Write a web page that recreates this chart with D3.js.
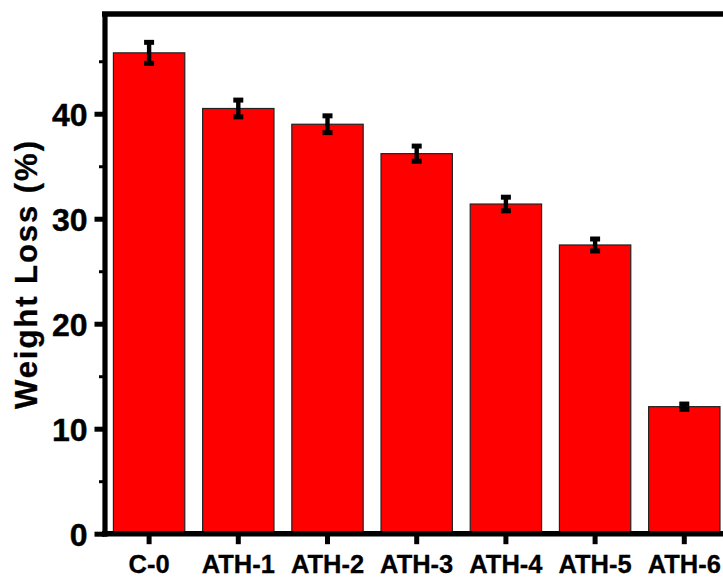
<!DOCTYPE html>
<html>
<head>
<meta charset="utf-8">
<script src="https://cdn.jsdelivr.net/npm/d3@7"></script>
<style>
  html, body { margin: 0; padding: 0; background: #fff; }
  svg { display: block; }
  text { font-family: "Liberation Sans", Arial, sans-serif; font-weight: bold; fill: #000; }
</style>
</head>
<body>
<svg id="chart" width="723" height="580"></svg>
<script>
// Sample names, mean weight loss (%) and standard deviation
const categories = ["C-0", "ATH-1", "ATH-2", "ATH-3", "ATH-4", "ATH-5", "ATH-6"];
const weightLoss = [45.8, 40.5, 39.0, 36.2, 31.4, 27.5, 12.1];
const errors = [1.0, 0.8, 0.8, 0.72, 0.65, 0.57, 0.25];
const majorTicks = [0, 10, 20, 30, 40];
const minorTicks = [5, 15, 25, 35, 45];
const yLabel = "Weight Loss (%)";

const svg = d3.select("#chart");

const plotLeft = 104.5, plotBottom = 533.7, plotTop = 14;
const step = 89.2;

const x = d3.scaleBand()
  .domain(categories)
  .range([plotLeft, plotLeft + step * categories.length])
  .paddingInner(0.2)
  .paddingOuter(0.1);

const y = d3.scaleLinear()
  .domain([0, 49.5])
  .range([plotBottom, plotTop]);

// Bars
svg.append("g")
  .selectAll("rect")
  .data(categories)
  .join("rect")
  .attr("x", d => x(d))
  .attr("width", x.bandwidth())
  .attr("y", (d, i) => y(weightLoss[i]))
  .attr("height", (d, i) => y(0) - y(weightLoss[i]))
  .attr("fill", "#ff0000")
  .attr("stroke", "#222")
  .attr("stroke-width", 1.2);

// Error bars
const eb = svg.append("g").attr("stroke", "#000");
categories.forEach((c, i) => {
  const cx = x(c) + x.bandwidth() / 2;
  const y1 = y(weightLoss[i] + errors[i]);
  const y2 = y(weightLoss[i] - errors[i]);
  eb.append("line").attr("x1", cx).attr("x2", cx).attr("y1", y1).attr("y2", y2)
    .attr("stroke-width", 4.4);
  [y1, y2].forEach(yy => {
    eb.append("line").attr("x1", cx - 5).attr("x2", cx + 5)
      .attr("y1", yy).attr("y2", yy).attr("stroke-width", 5);
  });
});

// Frame: top edge runs past the right side of the view
svg.append("line")
  .attr("x1", plotLeft - 2.5).attr("x2", 760)
  .attr("y1", y(49.5)).attr("y2", y(49.5))
  .attr("stroke", "#000").attr("stroke-width", 5.5);

// Y axis, major ticks
const yAxis = svg.append("g")
  .attr("transform", `translate(${plotLeft},0)`)
  .call(d3.axisLeft(y).tickValues(majorTicks).tickFormat(d3.format("d"))
    .tickSize(10).tickSizeOuter(0).tickPadding(7));
yAxis.select(".domain").attr("stroke-width", 5.2).attr("stroke-linecap", "square");
yAxis.selectAll(".tick line").attr("stroke-width", 5);
yAxis.selectAll(".tick text").attr("font-size", 32).attr("dy", "0.36em")
  .attr("stroke", "#000").attr("stroke-width", 0.4);

// Y axis, minor ticks
const yMinor = svg.append("g")
  .attr("transform", `translate(${plotLeft},0)`)
  .call(d3.axisLeft(y).tickValues(minorTicks).tickFormat("").tickSize(5.5).tickSizeOuter(0));
yMinor.select(".domain").remove();
yMinor.selectAll(".tick line").attr("stroke-width", 3);

// X axis
const xAxis = svg.append("g")
  .attr("transform", `translate(0,${plotBottom})`)
  .call(d3.axisBottom(x).tickSize(10.5).tickSizeOuter(0));
xAxis.select(".domain").attr("stroke-width", 5.5).attr("d", `M${plotLeft - 2.5},0H760`);
xAxis.selectAll(".tick line").attr("stroke-width", 5);
xAxis.selectAll(".tick text").attr("font-size", 25.5).attr("y", 39.6).attr("dy", 0)
  .attr("stroke", "#000").attr("stroke-width", 0.3);

// Y axis title
svg.append("text")
  .attr("transform", "translate(36.5,275) rotate(-90)")
  .attr("text-anchor", "middle")
  .attr("font-size", 31)
  .attr("textLength", 268)
  .attr("lengthAdjust", "spacing")
  .attr("stroke", "#000").attr("stroke-width", 0.3)
  .text(yLabel);
</script>
</body>
</html>
